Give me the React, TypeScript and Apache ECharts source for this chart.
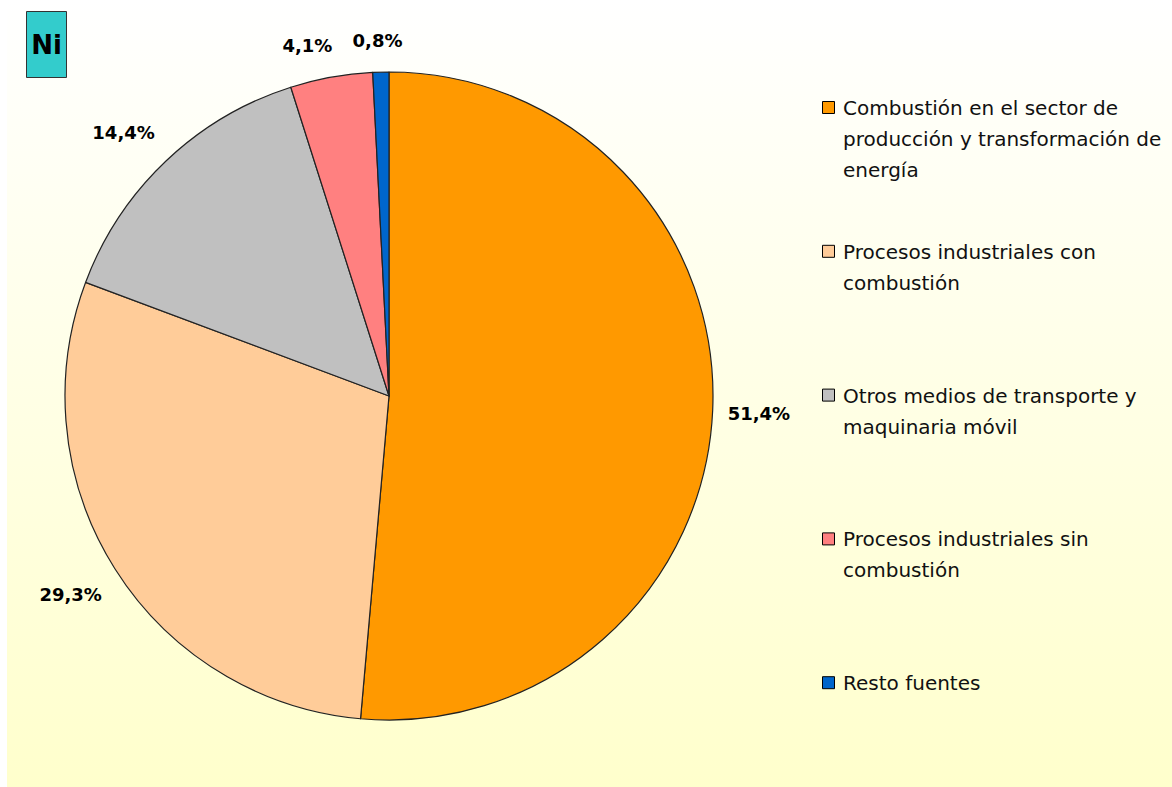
import React, { useEffect, useRef } from "react";
import * as echarts from "echarts";

const pollutant = "Ni";
const categories = [
  "Combustión en el sector de producción y transformación de energía",
  "Procesos industriales con combustión",
  "Otros medios de transporte y maquinaria móvil",
  "Procesos industriales sin combustión",
  "Resto fuentes",
];
const legendLines = [
  ["Combustión en el sector de", "producción y transformación de", "energía"],
  ["Procesos industriales con", "combustión"],
  ["Otros medios de transporte y", "maquinaria móvil"],
  ["Procesos industriales sin", "combustión"],
  ["Resto fuentes"],
];
const values = [51.4, 29.3, 14.4, 4.1, 0.8];
const colors = ["#FF9900", "#FFCC99", "#C0C0C0", "#FF8080", "#0066CC"];

const W = 1172;
const H = 787;
const CX = 389;
const CY = 396;
const RADIUS = 324;
const LEGEND_X = 822;
const LEGEND_TOP = 108;
const LEGEND_STEP = 143.8;
const LINE_H = 31;

export default function App() {
  const ref = useRef<HTMLDivElement>(null);
  useEffect(() => {
    if (!ref.current) return;
    const chart = echarts.init(ref.current, null, { renderer: "svg" });
    const total = values.reduce((a, b) => a + b, 0);
    const clampX = (v: number) => Math.max(-1, Math.min(1, v * 4.5));
    const clampY = (v: number) => Math.max(-1, Math.min(1, v * 3));

    const legendGraphics: any[] = [];
    legendLines.forEach((lines, i) => {
      const cy = LEGEND_TOP + i * LEGEND_STEP;
      legendGraphics.push({
        type: "rect",
        shape: { x: LEGEND_X + 0.5, y: cy - 6.5, width: 12, height: 12 },
        style: { fill: colors[i], stroke: "#000", lineWidth: 1 },
        z: 10,
      });
      legendGraphics.push({
        type: "text",
        x: LEGEND_X + 21,
        y: cy - LINE_H / 2,
        style: {
          text: lines.join("\n"),
          font: '20px "DejaVu Sans"',
          lineHeight: LINE_H,
          fill: "#111",
          verticalAlign: "top",
          align: "left",
        },
        z: 10,
      });
    });

    chart.setOption({
      animation: false,
      graphic: [
        {
          type: "rect",
          shape: { x: 7, y: 0, width: W - 7, height: H },
          style: {
            fill: new echarts.graphic.LinearGradient(0, 0, 0, 1, [
              { offset: 0, color: "#FFFFFF" },
              { offset: 1, color: "#FFFFCC" },
            ]),
          },
          z: -10,
        },
        {
          type: "rect",
          shape: { x: 26.5, y: 11.5, width: 40, height: 66 },
          style: { fill: "#33CCCC", stroke: "#333", lineWidth: 1 },
          z: 10,
        },
        {
          type: "text",
          x: 46.5,
          y: 45,
          style: {
            text: pollutant,
            font: 'bold 26px "DejaVu Sans"',
            fill: "#000",
            align: "center",
            verticalAlign: "middle",
          },
          z: 11,
        },
        ...legendGraphics,
      ],
      series: [
        {
          type: "pie",
          center: [CX, CY],
          radius: RADIUS,
          startAngle: 90,
          clockwise: true,
          avoidLabelOverlap: false,
          itemStyle: { borderColor: "#222", borderWidth: 1.2 },
          emphasis: { disabled: true },
          label: {
            show: true,
            position: "outside",
            formatter: (p: any) => values[p.dataIndex].toFixed(1).replace(".", ",") + "%",
            fontFamily: "DejaVu Sans",
            fontWeight: "bold",
            fontSize: 18,
            color: "#000",
          },
          labelLine: { show: false },
          labelLayout: (p: any) => {
            const i = p.dataIndex;
            let before = 0;
            for (let k = 0; k < i; k++) before += values[k];
            const mid = ((before + values[i] / 2) / total) * 2 * Math.PI;
            const dx = Math.sin(mid);
            const dy = -Math.cos(mid);
            const R = RADIUS + 13;
            const hw = p.labelRect.width / 2 + 2;
            const hh = p.labelRect.height / 2 + 10;
            return {
              x: CX + dx * R + clampX(dx) * hw,
              y: CY + dy * R + clampY(dy) * hh,
              align: "center",
              verticalAlign: "middle",
            };
          },
          data: categories.map((name, i) => ({
            name,
            value: values[i],
            itemStyle: { color: colors[i] },
          })),
        },
      ],
    });
    return () => chart.dispose();
  }, []);
  return (
    <div
      ref={ref}
      style={{ position: "absolute", left: 0, top: 0, width: W, height: H }}
    />
  );
}
